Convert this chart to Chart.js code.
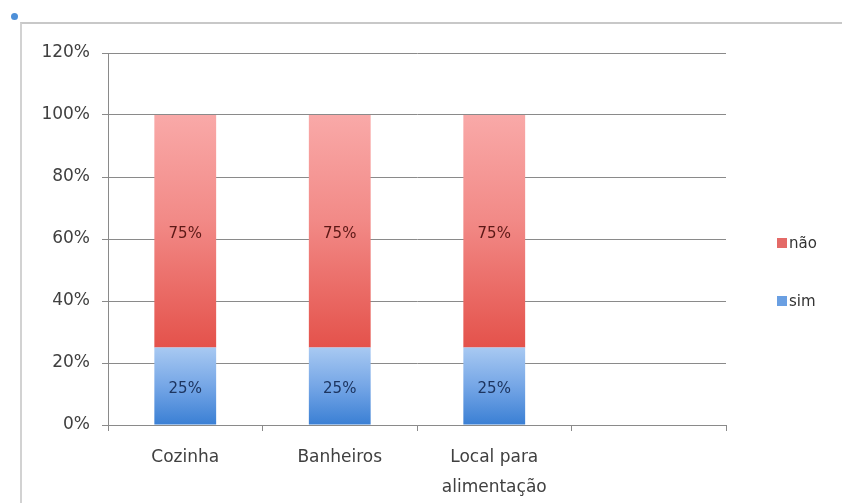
<!DOCTYPE html>
<html lang="pt">
<head>
  <meta charset="UTF-8">
  <title>Cozinha, Banheiros, Local para alimentação</title>
  <script src="https://cdn.jsdelivr.net/npm/chart.js"></script>
  <style>
    html, body {
      margin: 0;
      padding: 0;
      background: #ffffff;
    }
    #wrap {
      position: relative;
      width: 842px;
      height: 503px;
    }
    #frame {
      position: absolute;
      left: 20px;
      top: 22px;
      right: 0;
      bottom: 0;
      border-left: 2px solid #d2d2d2;
      border-top: 2px solid #c8c8c8;
      pointer-events: none;
    }
    #dot {
      position: absolute;
      left: 11px;
      top: 13px;
      width: 7px;
      height: 7px;
      border-radius: 50%;
      background: #4d8fd8;
    }
    canvas {
      display: block;
    }
  </style>
</head>
<body>

<div id="wrap">
  <canvas id="chart" width="842" height="503"></canvas>
  <div id="frame"></div>
  <div id="dot"></div>
</div>

<script>
  // Dados
  const categorias = ['Cozinha', 'Banheiros', ['Local para', 'alimentação'], ''];
  const sim = [25, 25, 25, null];
  const nao = [75, 75, 75, null];
  const yTicks = [0, 20, 40, 60, 80, 100, 120];

  const FONTE = '"DejaVu Sans", sans-serif';

  // Gradiente vertical para cada segmento da barra
  function gradiente(chart, de, ate, paradas) {
    const y = chart.scales.y;
    if (!y || !chart.chartArea) return paradas[paradas.length - 1][1];
    const topo = y.getPixelForValue(ate);
    const base = y.getPixelForValue(de);
    const g = chart.ctx.createLinearGradient(0, topo, 0, base);
    paradas.forEach(([p, cor]) => g.addColorStop(p, cor));
    return g;
  }

  // Rótulos de valor no centro de cada segmento + legenda à direita
  const rotulos = {
    id: 'rotulos',
    afterDatasetsDraw(chart) {
      const ctx = chart.ctx;
      ctx.save();
      ctx.font = '15px ' + FONTE;
      ctx.textAlign = 'center';
      ctx.textBaseline = 'middle';
      chart.data.datasets.forEach((ds, i) => {
        const meta = chart.getDatasetMeta(i);
        meta.data.forEach((bar, j) => {
          const v = ds.data[j];
          if (v == null) return;
          const p = bar.getProps(['x', 'y', 'base'], true);
          ctx.fillStyle = ds.corRotulo;
          ctx.fillText(v + '%', p.x, (p.y + p.base) / 2 + 3);
        });
      });

      // legenda
      const a = chart.chartArea;
      const itens = chart.data.datasets.slice().reverse();
      itens.forEach((ds, k) => {
        const cy = a.top + 190 + k * 58;
        const x = a.right + 51;
        ctx.fillStyle = ds.corLegenda;
        ctx.fillRect(x, cy - 5, 10, 10);
        ctx.fillStyle = '#333333';
        ctx.textAlign = 'left';
        ctx.font = '15px ' + FONTE;
        ctx.fillText(ds.label, x + 12, cy + 1);
      });
      ctx.restore();
    }
  };

  const chart = new Chart(document.getElementById('chart'), {
    type: 'bar',
    data: {
      labels: categorias,
      datasets: [
        {
          label: 'sim',
          data: sim,
          corRotulo: '#1d3560',
          corLegenda: '#6a9fe2',
          backgroundColor: (c) => gradiente(c.chart, 0, sim[c.dataIndex] || 0,
            [[0, '#a8c9f2'], [0.5, '#75a6e6'], [1, '#3a7fd4']]),
          borderWidth: 0,
          barPercentage: 0.4,
          categoryPercentage: 1
        },
        {
          label: 'não',
          data: nao,
          corRotulo: '#5c1816',
          corLegenda: '#e46a67',
          backgroundColor: (c) => gradiente(c.chart, sim[c.dataIndex] || 0,
            (sim[c.dataIndex] || 0) + (nao[c.dataIndex] || 0),
            [[0, '#f9a9a8'], [0.45, '#f28a87'], [1, '#e4524b']]),
          borderWidth: 0,
          barPercentage: 0.4,
          categoryPercentage: 1
        }
      ]
    },
    options: {
      responsive: false,
      animation: false,
      layout: {
        padding: { top: 53, right: 116, bottom: 0, left: 0 }
      },
      plugins: {
        legend: { display: false },
        tooltip: { enabled: false }
      },
      scales: {
        x: {
          stacked: true,
          afterFit: (s) => { s.height = 78; },
          grid: {
            offset: true,
            drawOnChartArea: false,
            drawTicks: true,
            tickLength: 6,
            color: '#8a8a8a'
          },
          border: { color: '#8a8a8a', width: 1 },
          ticks: {
            color: '#404040',
            padding: 12,
            maxRotation: 0,
            autoSkip: false,
            font: { family: FONTE, size: 17, lineHeight: 1.75 }
          }
        },
        y: {
          stacked: true,
          min: 0,
          max: 120,
          afterFit: (s) => { s.width = 108; },
          afterBuildTicks: (s) => { s.ticks = yTicks.map(v => ({ value: v })); },
          grid: {
            color: '#8a8a8a',
            tickLength: 6
          },
          border: { color: '#8a8a8a', width: 1 },
          ticks: {
            color: '#404040',
            padding: 12,
            font: { family: FONTE, size: 17 },
            callback: (v) => v + '%'
          }
        }
      }
    },
    plugins: [rotulos]
  });
</script>
</body>
</html>
